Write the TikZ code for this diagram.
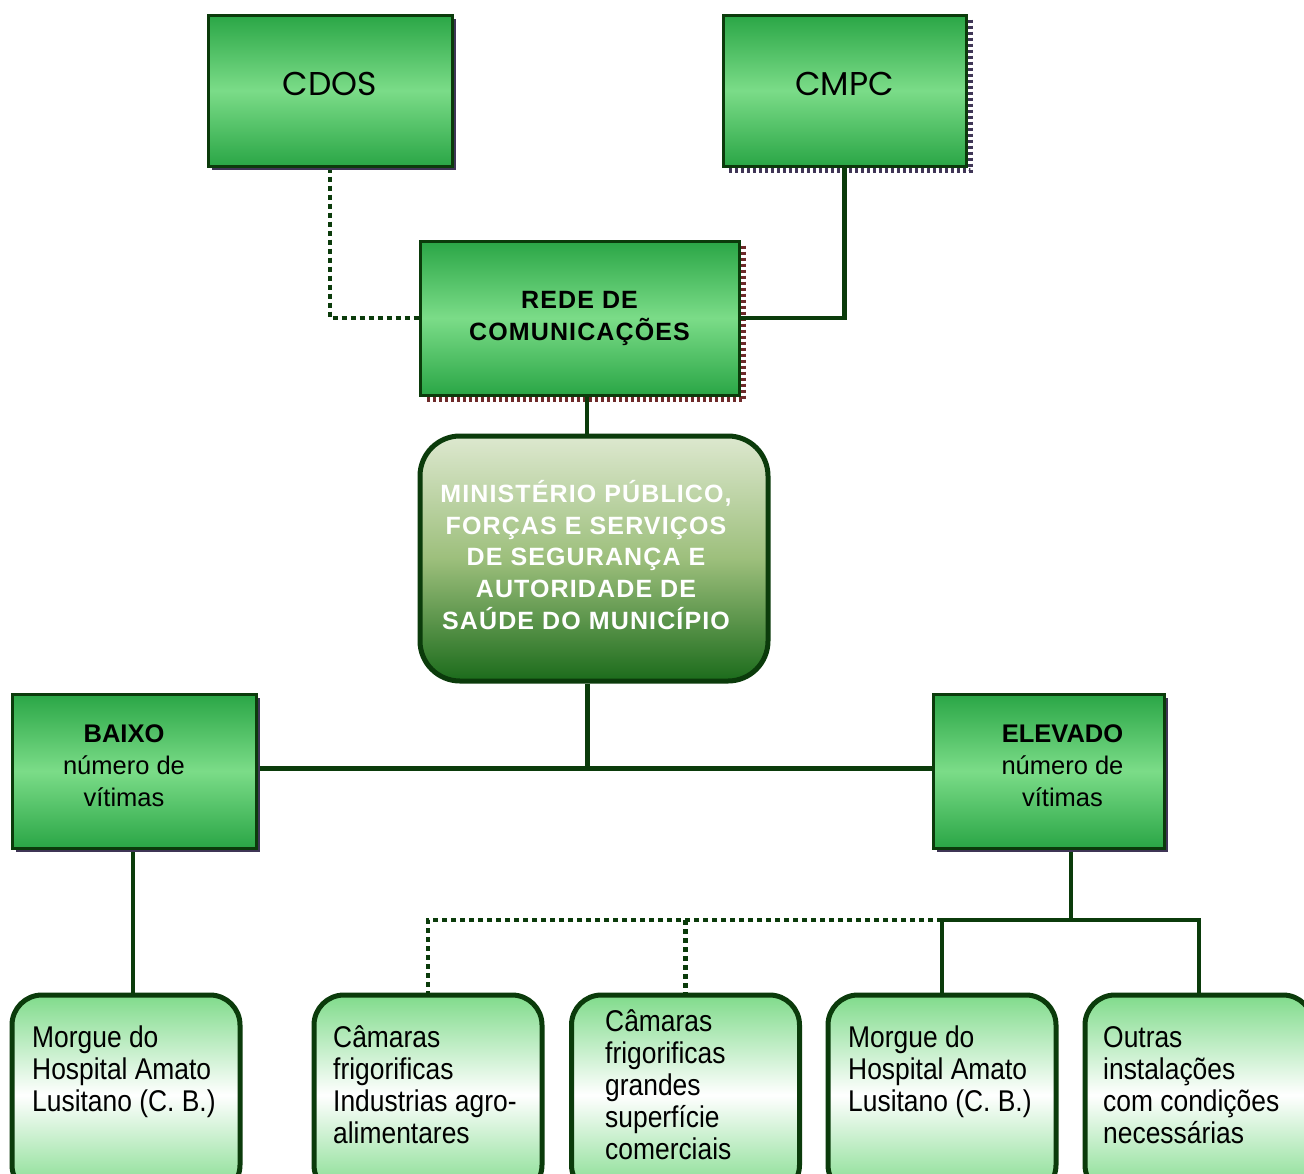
\documentclass[tikz,border=0pt]{standalone}
\usepackage{fontspec}
\setmainfont{Liberation Sans}
\newfontfamily\tallfont[FakeStretch=0.88]{Liberation Sans}
\newfontfamily\geofont{Poppins}
\usetikzlibrary{shadows,backgrounds,calc}

\definecolor{dkgreen}{HTML}{0B3B0B}
\definecolor{boxedge}{HTML}{2AA646}
\definecolor{boxmid}{HTML}{7BDC88}
\definecolor{shadowc}{HTML}{3F3556}
\definecolor{shadowred}{HTML}{6E2A2A}
\definecolor{mintop}{HTML}{DDE8CF}
\definecolor{minmid}{HTML}{9DBF7C}
\definecolor{minbot}{HTML}{1B6B1B}
\definecolor{leaftop}{HTML}{80DB8B}

\newcommand{\leaflines}[1]{\begin{tabular}[t]{@{}l@{}}#1\end{tabular}}

\tikzset{
  sqbox/.style={draw=dkgreen, line width=3pt, top color=boxedge, bottom color=boxedge, middle color=boxmid},
  plainshadow/.style={drop shadow={shadow xshift=4pt, shadow yshift=-4pt, fill=shadowc, opacity=1}},
  leafbox/.style={draw=dkgreen, line width=5pt, rounded corners=30pt,
    top color=leaftop, bottom color=leaftop, middle color=white,
    minimum width=228pt, minimum height=200pt},
  leaftext/.style={anchor=base west, inner sep=0pt, font=\tallfont\fontsize{30}{32}\selectfont},
  toplabel/.style={yshift=7pt, font=\geofont\fontsize{33}{38}\selectfont},
  solidline/.style={draw=dkgreen, line width=4.5pt},
  thickline/.style={draw=dkgreen, line width=5pt},
  dotline/.style={draw=dkgreen, line width=4.5pt, dash pattern=on 5pt off 4pt},
  dashshadow/.style={line width=4.5pt, dash pattern=on 3pt off 3pt},
}

\begin{document}
\begin{tikzpicture}[x=1pt, y=-1pt]
\useasboundingbox (0,0) rectangle (1304,1173);
\clip (0,0) rectangle (1304,1173);

% top row
\node[sqbox, plainshadow, minimum width=244pt, minimum height=151pt,
      label={[toplabel]center:CDOS}] (cdos) at (330,90.5) {};
\node[sqbox, minimum width=243pt, minimum height=151pt,
      label={[toplabel]center:CMPC}] (cmpc) at (844.5,90.5) {};

% communications network
\node[sqbox, minimum width=319pt, minimum height=154pt, align=center,
      font=\bfseries\fontsize{25}{32}\selectfont\addfontfeatures{LetterSpace=4.5}] (rede) at (579.5,318)
      {REDE DE\\COMUNICAÇÕES};

% central authority
\node[draw=dkgreen, line width=5pt, rounded corners=40pt,
      top color=mintop, bottom color=minbot, middle color=minmid,
      minimum width=348pt, minimum height=245pt] (min) at (594,558.5) {};
\node[text=white, align=center, inner sep=0pt,
      font=\bfseries\fontsize{25}{31.75}\selectfont\addfontfeatures{LetterSpace=4.5}] (mintext) at (586,555)
      {MINISTÉRIO PÚBLICO,\\FORÇAS E SERVIÇOS\\DE SEGURANÇA E\\AUTORIDADE DE\\SAÚDE DO MUNICÍPIO};

% victim count levels
\node[sqbox, plainshadow, minimum width=244pt, minimum height=154pt,
      label={[xshift=-10pt, yshift=5pt, align=center, font=\fontsize{25.5}{32}\selectfont]center:{\textbf{BAIXO}\\número de\\vítimas}}]
      (baixo) at (134,771) {};
\node[sqbox, plainshadow, minimum width=231pt, minimum height=154pt,
      label={[xshift=14pt, yshift=5pt, align=center, font=\fontsize{25.5}{32}\selectfont]center:{\textbf{ELEVADO}\\número de\\vítimas}}]
      (elevado) at (1048.5,771) {};

% facilities
\node[leafbox] (b1) at (126,1095) {};
\node[leafbox] (b2) at (428,1095) {};
\node[leafbox] (b3) at (685.5,1095) {};
\node[leafbox] (b4) at (942,1095) {};
\node[leafbox] (b5) at (1199,1095) {};

\node[leaftext] (t1) at (32,1047) {\leaflines{Morgue do\\Hospital Amato\\Lusitano (C. B.)}};
\node[leaftext] (t2) at (333,1047) {\leaflines{Câmaras\\frigorificas\\Industrias agro-\\alimentares}};
\node[leaftext] (t3) at (605,1031) {\leaflines{Câmaras\\frigorificas\\grandes\\superfície\\comerciais}};
\node[leaftext] (t4) at (848,1047) {\leaflines{Morgue do\\Hospital Amato\\Lusitano (C. B.)}};
\node[leaftext] (t5) at (1103,1047) {\leaflines{Outras\\instalações\\com condições\\necessárias}};

% connectors and dotted shadows, behind the boxes
\coordinate (spine) at (587,768);
\coordinate (lowdrop) at (133,0);
\coordinate (highdrop) at (1071,920);

\begin{scope}[on background layer]
  \fill[white] (0,0) rectangle (1304,1173);
  \draw[dashshadow, draw=shadowc] ($(cmpc.north east)+(3,6)$) -- ($(cmpc.south east)+(3,3)$) -- ($(cmpc.south west)+(6,3)$);
  \draw[dashshadow, draw=shadowred] ($(rede.north east)+(3,6)$) -- ($(rede.south east)+(3,3)$) -- ($(rede.south west)+(6,3)$);
  \draw[dotline] (cdos.south) |- (rede.west);
  \draw[solidline] (cmpc.south) |- (rede.east);
  \draw[solidline] (rede.south -| spine) -- (min.north -| spine);
  \draw[thickline] (min.south -| spine) -- (spine);
  \draw[thickline] (baixo.east |- spine) -- (elevado.west |- spine);
  \draw[solidline] (baixo.south -| lowdrop) -- (b1.north -| lowdrop);
  \draw[solidline] (elevado.south -| highdrop) -- (highdrop);
  \draw[solidline] (b4.north) -- (b4.north |- highdrop) -- (b5.north |- highdrop) -- (b5.north);
  \draw[dotline] (b4.north |- highdrop) -- (b3.north |- highdrop) -- (b2.north |- highdrop) -- (b2.north);
  \draw[dotline] (b3.north |- highdrop) -- ([yshift=-7pt]b3.north);
\end{scope}
\end{tikzpicture}
\end{document}
